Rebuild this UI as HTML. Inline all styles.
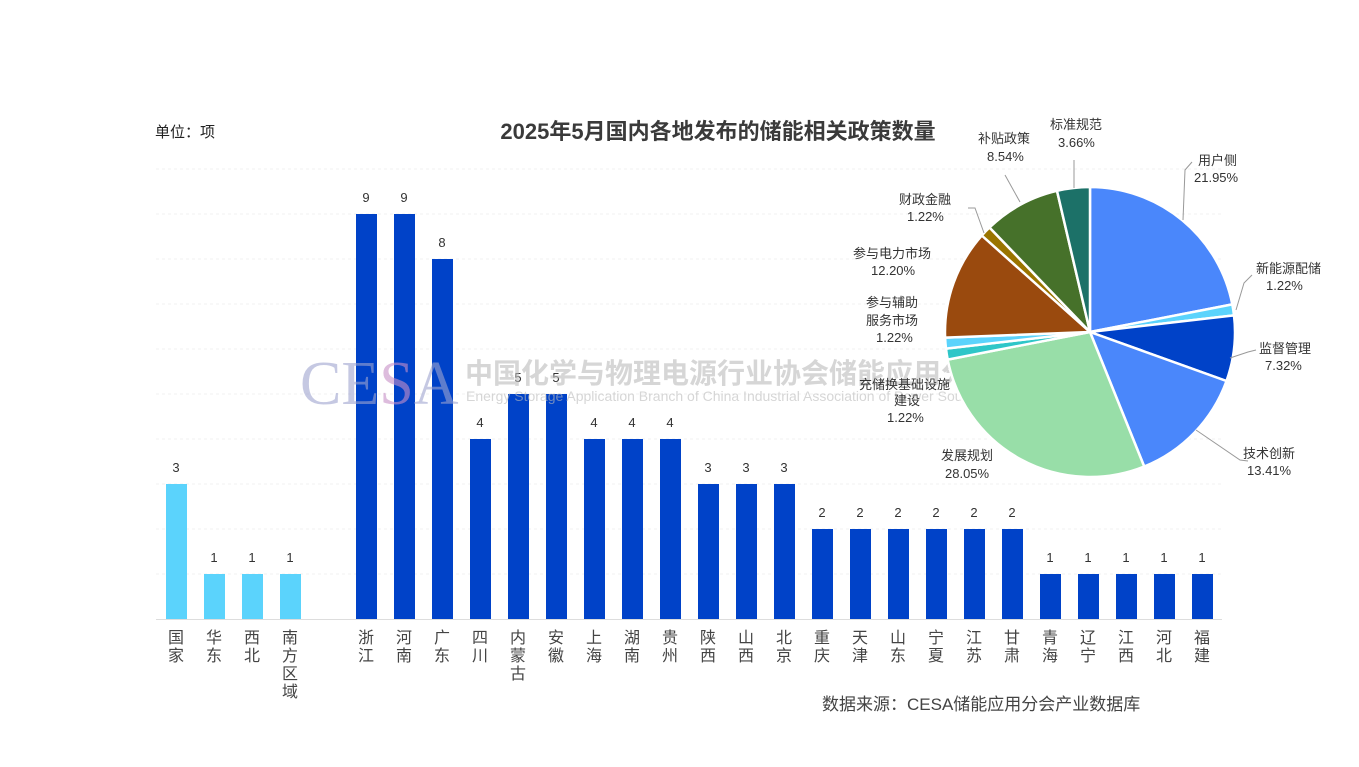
<!DOCTYPE html>
<html><head><meta charset="utf-8"><style>
body{margin:0;background:#fff;}
svg text{font-family:"Liberation Sans","Noto Sans CJK SC",sans-serif;}
</style></head><body>
<svg width="1359" height="762" viewBox="0 0 1359 762" xmlns="http://www.w3.org/2000/svg">
<g stroke="#f0f0f0" stroke-width="1" stroke-dasharray="3,3">
<line x1="156" x2="1222" y1="169" y2="169"/><line x1="156" x2="1222" y1="214" y2="214"/>
<line x1="156" x2="1222" y1="259" y2="259"/><line x1="156" x2="1222" y1="304" y2="304"/>
<line x1="156" x2="1222" y1="349" y2="349"/><line x1="156" x2="1222" y1="394" y2="394"/>
<line x1="156" x2="1222" y1="439" y2="439"/><line x1="156" x2="1222" y1="484" y2="484"/>
<line x1="156" x2="1222" y1="529" y2="529"/><line x1="156" x2="1222" y1="574" y2="574"/>
</g>
<line x1="156" x2="1222" y1="619.5" y2="619.5" stroke="#ddd"/>
<text x="155" y="137" font-size="15" fill="#222">单位：项</text>
<text x="718" y="139" font-size="22" font-weight="bold" fill="#3a3a3a" text-anchor="middle">2025年5月国内各地发布的储能相关政策数量</text>
<g fill="#5bd3fc">
<rect x="166" y="484" width="21" height="135"/><rect x="204" y="574" width="21" height="45"/>
<rect x="242" y="574" width="21" height="45"/><rect x="280" y="574" width="21" height="45"/>
</g>
<g fill="#0042c8">
<rect x="356" y="214" width="21" height="405"/><rect x="394" y="214" width="21" height="405"/>
<rect x="432" y="259" width="21" height="360"/><rect x="470" y="439" width="21" height="180"/>
<rect x="508" y="394" width="21" height="225"/><rect x="546" y="394" width="21" height="225"/>
<rect x="584" y="439" width="21" height="180"/><rect x="622" y="439" width="21" height="180"/>
<rect x="660" y="439" width="21" height="180"/><rect x="698" y="484" width="21" height="135"/>
<rect x="736" y="484" width="21" height="135"/><rect x="774" y="484" width="21" height="135"/>
<rect x="812" y="529" width="21" height="90"/><rect x="850" y="529" width="21" height="90"/>
<rect x="888" y="529" width="21" height="90"/><rect x="926" y="529" width="21" height="90"/>
<rect x="964" y="529" width="21" height="90"/><rect x="1002" y="529" width="21" height="90"/>
<rect x="1040" y="574" width="21" height="45"/><rect x="1078" y="574" width="21" height="45"/>
<rect x="1116" y="574" width="21" height="45"/><rect x="1154" y="574" width="21" height="45"/>
<rect x="1192" y="574" width="21" height="45"/>
</g>
<g font-size="13" fill="#333" text-anchor="middle">
<text x="176" y="472">3</text><text x="214" y="562">1</text><text x="252" y="562">1</text><text x="290" y="562">1</text>
<text x="366" y="202">9</text><text x="404" y="202">9</text><text x="442" y="247">8</text><text x="480" y="427">4</text>
<text x="518" y="382">5</text><text x="556" y="382">5</text><text x="594" y="427">4</text><text x="632" y="427">4</text>
<text x="670" y="427">4</text><text x="708" y="472">3</text><text x="746" y="472">3</text><text x="784" y="472">3</text>
<text x="822" y="517">2</text><text x="860" y="517">2</text><text x="898" y="517">2</text><text x="936" y="517">2</text>
<text x="974" y="517">2</text><text x="1012" y="517">2</text><text x="1050" y="562">1</text><text x="1088" y="562">1</text>
<text x="1126" y="562">1</text><text x="1164" y="562">1</text><text x="1202" y="562">1</text>
</g>
<g font-size="16" fill="#444" text-anchor="middle">
<text x="176" y="643">国<tspan x="176" dy="18">家</tspan></text>
<text x="214" y="643">华<tspan x="214" dy="18">东</tspan></text>
<text x="252" y="643">西<tspan x="252" dy="18">北</tspan></text>
<text x="290" y="643">南<tspan x="290" dy="18">方</tspan><tspan x="290" dy="18">区</tspan><tspan x="290" dy="18">域</tspan></text>
<text x="366" y="643">浙<tspan x="366" dy="18">江</tspan></text>
<text x="404" y="643">河<tspan x="404" dy="18">南</tspan></text>
<text x="442" y="643">广<tspan x="442" dy="18">东</tspan></text>
<text x="480" y="643">四<tspan x="480" dy="18">川</tspan></text>
<text x="518" y="643">内<tspan x="518" dy="18">蒙</tspan><tspan x="518" dy="18">古</tspan></text>
<text x="556" y="643">安<tspan x="556" dy="18">徽</tspan></text>
<text x="594" y="643">上<tspan x="594" dy="18">海</tspan></text>
<text x="632" y="643">湖<tspan x="632" dy="18">南</tspan></text>
<text x="670" y="643">贵<tspan x="670" dy="18">州</tspan></text>
<text x="708" y="643">陕<tspan x="708" dy="18">西</tspan></text>
<text x="746" y="643">山<tspan x="746" dy="18">西</tspan></text>
<text x="784" y="643">北<tspan x="784" dy="18">京</tspan></text>
<text x="822" y="643">重<tspan x="822" dy="18">庆</tspan></text>
<text x="860" y="643">天<tspan x="860" dy="18">津</tspan></text>
<text x="898" y="643">山<tspan x="898" dy="18">东</tspan></text>
<text x="936" y="643">宁<tspan x="936" dy="18">夏</tspan></text>
<text x="974" y="643">江<tspan x="974" dy="18">苏</tspan></text>
<text x="1012" y="643">甘<tspan x="1012" dy="18">肃</tspan></text>
<text x="1050" y="643">青<tspan x="1050" dy="18">海</tspan></text>
<text x="1088" y="643">辽<tspan x="1088" dy="18">宁</tspan></text>
<text x="1126" y="643">江<tspan x="1126" dy="18">西</tspan></text>
<text x="1164" y="643">河<tspan x="1164" dy="18">北</tspan></text>
<text x="1202" y="643">福<tspan x="1202" dy="18">建</tspan></text>
</g>
<text x="822" y="710" font-size="17" fill="#444">数据来源：CESA储能应用分会产业数据库</text>
<g opacity="0.6">
<text x="300" y="404" font-size="62" fill="#9fa5d0" style="font-family:'Liberation Serif',serif">CE<tspan fill="#c890c8">S</tspan>A</text>
<text x="465" y="383" font-size="28" font-weight="bold" fill="#bbb">中国化学与物理电源行业协会储能应用分会</text>
<text x="466" y="401" font-size="14" fill="#bbb">Energy Storage Application Branch of China Industrial Association of Power Sources</text>
</g>
<g stroke="#fff" stroke-width="2.5" stroke-linejoin="round">
<path d="M1090,332 L1090,187 A145,145 0 0 1 1232.3,304.4 Z" fill="#4a87fb"/>
<path d="M1090,332 L1232.3,304.4 A145,145 0 0 1 1234.0,315.4 Z" fill="#5bd3fc"/>
<path d="M1090,332 L1234.0,315.4 A145,145 0 0 1 1226.5,381.0 Z" fill="#0042c8"/>
<path d="M1090,332 L1226.5,381.0 A145,145 0 0 1 1144.2,466.5 Z" fill="#4a87fb"/>
<path d="M1090,332 L1144.2,466.5 A145,145 0 0 1 947.7,359.6 Z" fill="#98dea8"/>
<path d="M1090,332 L947.7,359.6 A145,145 0 0 1 946.0,348.6 Z" fill="#2ec6c8"/>
<path d="M1090,332 L946.0,348.6 A145,145 0 0 1 945.1,337.6 Z" fill="#5bd3fc"/>
<path d="M1090,332 L945.1,337.6 A145,145 0 0 1 981.8,235.5 Z" fill="#9a4a0e"/>
<path d="M1090,332 L981.8,235.5 A145,145 0 0 1 989.5,227.5 Z" fill="#9a7400"/>
<path d="M1090,332 L989.5,227.5 A145,145 0 0 1 1057.0,190.8 Z" fill="#46712a"/>
<path d="M1090,332 L1057.0,190.8 A145,145 0 0 1 1090,187 Z" fill="#1c7168"/>
</g>
<g stroke="#999" fill="none" stroke-width="1">
<polyline points="1183,220 1185,170 1192,162"/>
<polyline points="1236,310 1244,283 1252,275"/>
<polyline points="1230,358 1248,352 1256,350"/>
<polyline points="1196,430 1240,460 1248,461"/>
<polyline points="984,233 975,208 968,208"/>
<polyline points="1020,202 1005,175"/>
<polyline points="1074,188 1074,160"/>
</g>
<g font-size="13" fill="#333">
<text x="1198" y="165">用户侧</text><text x="1194" y="182">21.95%</text>
<text x="1256" y="273">新能源配储</text><text x="1266" y="290">1.22%</text>
<text x="1259" y="353">监督管理</text><text x="1265" y="370">7.32%</text>
<text x="1243" y="458">技术创新</text><text x="1247" y="475">13.41%</text>
<text x="941" y="460">发展规划</text><text x="945" y="478">28.05%</text>
<text x="859" y="389">充储换基础设施</text><text x="894" y="405">建设</text><text x="887" y="422">1.22%</text>
<text x="866" y="307">参与辅助</text><text x="866" y="325">服务市场</text><text x="876" y="342">1.22%</text>
<text x="853" y="258">参与电力市场</text><text x="871" y="275">12.20%</text>
<text x="899" y="204">财政金融</text><text x="907" y="221">1.22%</text>
<text x="978" y="143">补贴政策</text><text x="987" y="161">8.54%</text>
<text x="1050" y="129">标准规范</text><text x="1058" y="147">3.66%</text>
</g>
</svg>
</body></html>
